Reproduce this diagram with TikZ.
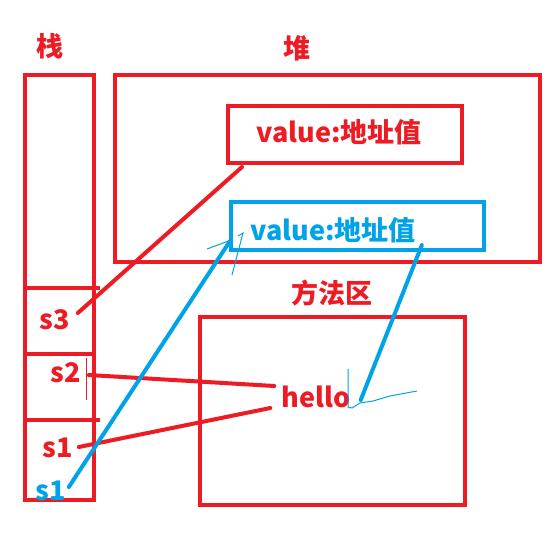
\documentclass[tikz,border=0pt]{standalone}
\usepackage{fontspec}
\setmainfont{Noto Sans CJK SC}
\definecolor{paintred}{RGB}{237,28,36}
\definecolor{paintblue}{RGB}{0,162,232}
\tikzset{%
  box/.style={draw=paintred, line width=4pt, inner sep=0pt, outer sep=0pt},%
  label/.style={text=paintred, inner sep=0pt, anchor=base, font=\fontsize{27}{30}\selectfont\bfseries},%
  redline/.style={draw=paintred, line width=4pt, line cap=round},%
  blueline/.style={draw=paintblue, line width=4pt, line cap=round},%
  thinblue/.style={draw=paintblue, line width=1pt}%
}
\begin{document}
\begin{tikzpicture}[x=1pt,y=-1pt]%
\useasboundingbox (0,0) rectangle (555,550);%
\node[box, minimum width=69pt, minimum height=425pt] (stack) at (59.5,287.5) {};%
\node[box, minimum width=425pt, minimum height=187pt] (heap) at (327.5,168.5) {};%
\node[box, minimum width=234pt, minimum height=57pt] (redbox) at (345,134.5) {};%
\node[box, draw=paintblue, minimum width=253pt, minimum height=48pt] (bluebox) at (357.5,226) {};%
\node[box, minimum width=265pt, minimum height=188pt] (method) at (332.5,411) {};%
\draw[redline, line cap=butt] (stack.west |- 0,288) -- (100,288);%
\draw[redline, line cap=butt] (stack.west |- 0,354) -- (94,354);%
\draw[redline, line cap=butt] (stack.west |- 0,420) -- (100,420);%
\node[label] (zhan) at (50,56) {栈};%
\node[label] (dui) at (297,58) {堆};%
\node[label] (fangfa) at (332,303) {方法区};%
\node[label] (valred) at (339,142) {value:地址值};%
\node[label, text=paintblue] (valblue) at (333,240) {value:地址值};%
\node[label] (hello) at (316,407) {hello};%
\node[label] (s3) at (55,329) {s3};%
\node[label] (s2) at (66,382) {s2};%
\node[label] (s1) at (58,457) {s1};%
\node[label, text=paintblue] (s1b) at (51,500) {s1};%
\draw[paintred, line width=1pt] (86,358) -- (86,400);%
\draw[redline] ([shift={(7.5,-16)}]s3.base east) -- ([shift={(14,4)}]redbox.south west);%
\draw[redline] ([shift={(7.5,-7)}]s2.base east) -- ([shift={(-7,-21)}]hello.base west);%
\draw[redline] ([shift={(5.5,-10)}]s1.base east) -- ([shift={(-11,1)}]hello.base west);%
\draw[blueline] ([shift={(2.5,-13)}]s1b.base east) -- ([shift={(-1,-9)}]bluebox.south west);%
\draw[blueline] ([shift={(6,5)}]valblue.base east) -- ([shift={(10,-7)}]hello.base east);%
\draw[thinblue] (207,249) -- (231,240);%
\draw[thinblue] (232,275) -- (243,233) -- (238,236);%
\draw[thinblue] (348,369) -- (348,407) -- (352,408) -- (360,403) -- (373,401) -- (390,396) -- (417,391);%
\end{tikzpicture}
\end{document}
